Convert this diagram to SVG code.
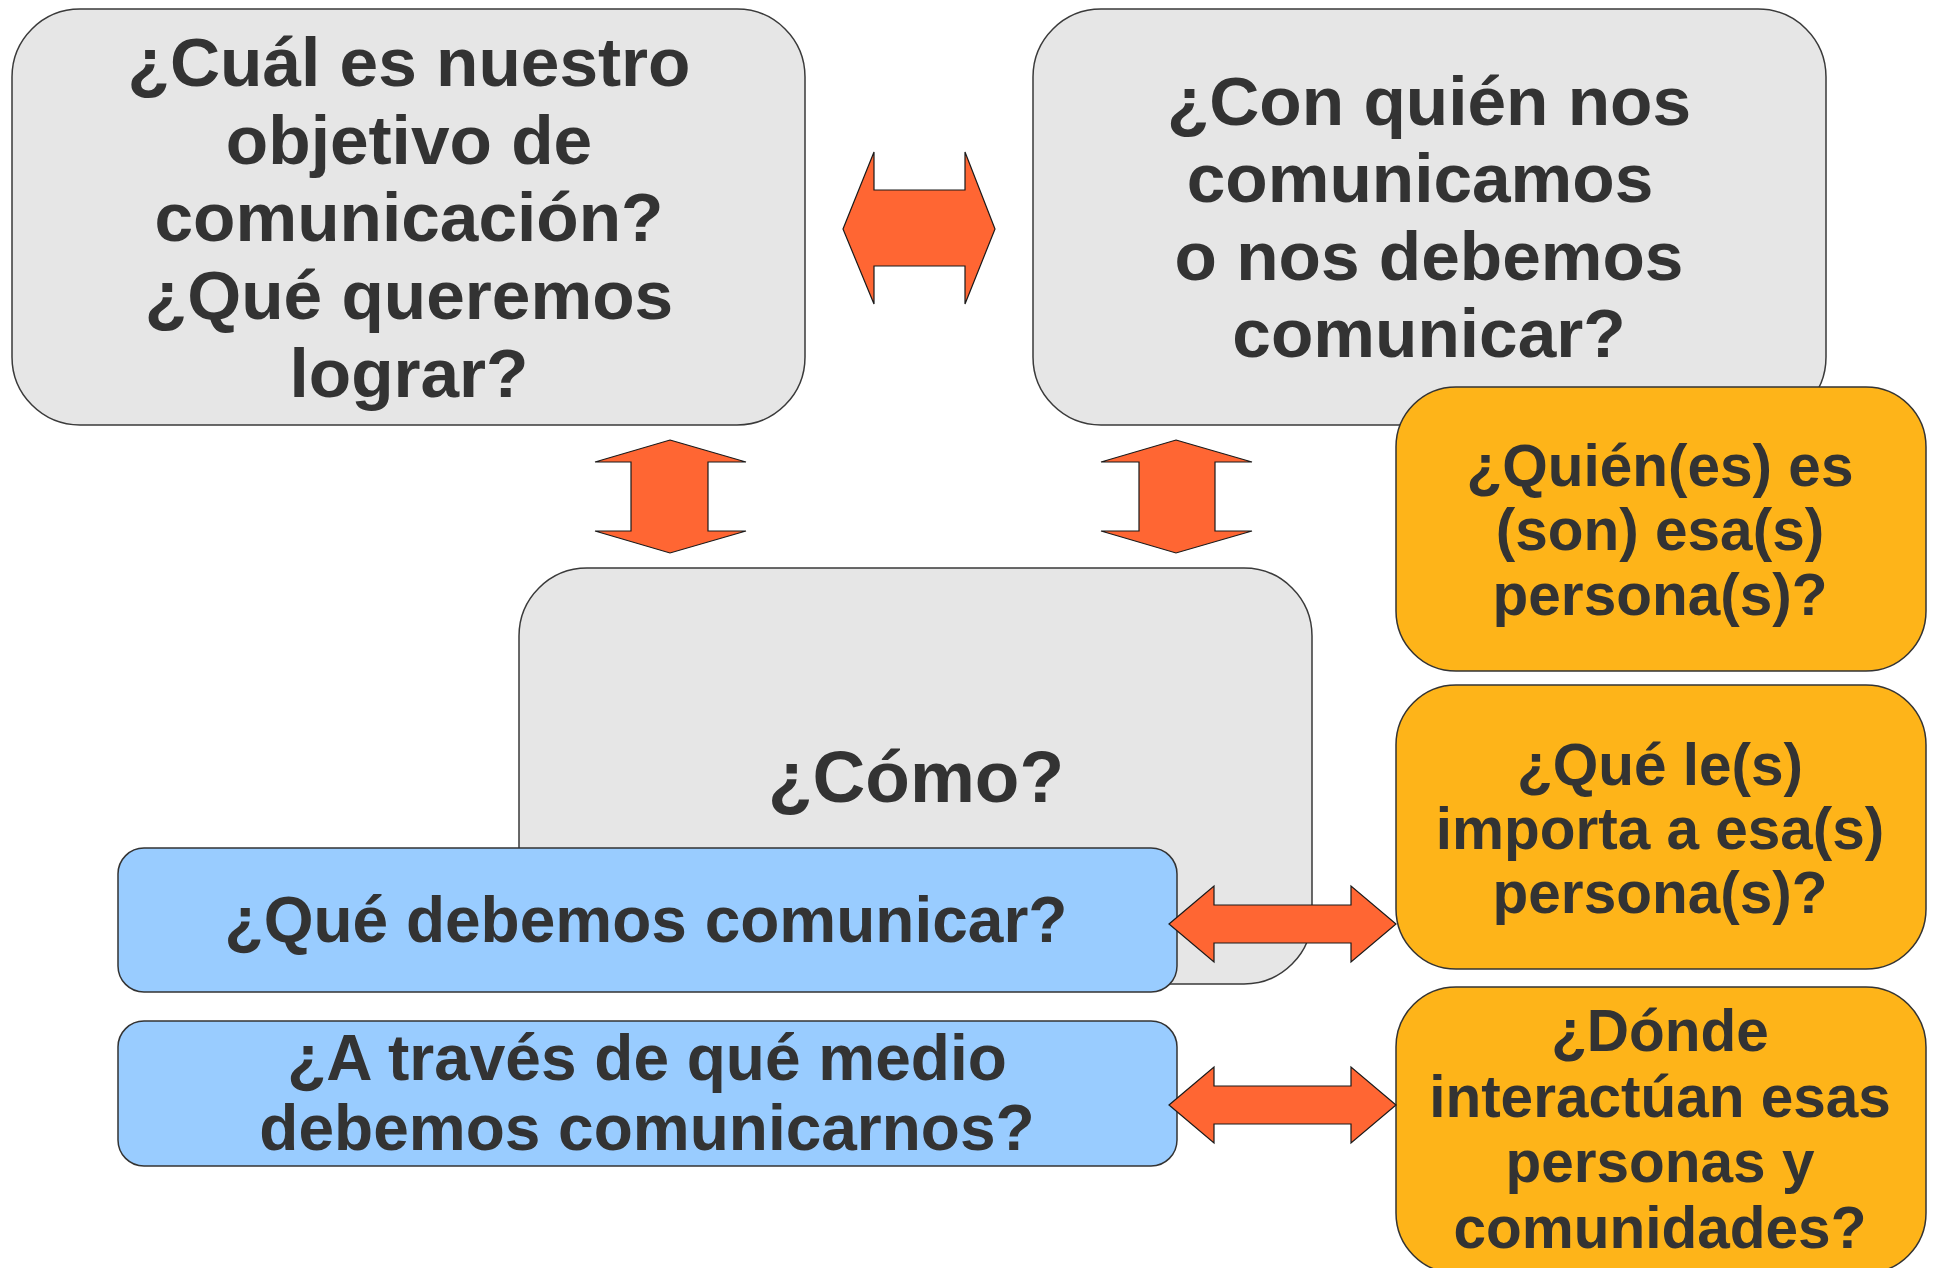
<svg xmlns="http://www.w3.org/2000/svg" width="1933" height="1268" viewBox="0 0 1933 1268">
<style>
.grey{fill:#e6e6e6;stroke:#3a3a3a;stroke-width:1.5}
.blue{fill:#99ccff;stroke:#333;stroke-width:1.5}
.orange{fill:#feb419;stroke:#333;stroke-width:1.5}
.arrow{fill:#ff6633;stroke:#1a1a1a;stroke-width:1.2;stroke-linejoin:miter}
text{font-family:"Liberation Sans",Arial,sans-serif;font-weight:bold;fill:#333;text-anchor:middle}
.g{font-size:69.4px}
.c{font-size:73px}
.b{font-size:64px}
.o{font-size:58.5px}
</style>
<rect width="1933" height="1268" fill="#fff"/>
<g id="objetivo">
<rect class="grey" x="12" y="9" width="793" height="416" rx="68" ry="68"/>
<text class="g" x="409" y="86">¿Cuál es nuestro</text>
<text class="g" x="409" y="164">objetivo de</text>
<text class="g" x="409" y="241">comunicación?</text>
<text class="g" x="409" y="319">¿Qué queremos</text>
<text class="g" x="409" y="397">lograr?</text>
</g>
<g id="con-quien">
<rect class="grey" x="1033" y="9" width="793" height="416" rx="68" ry="68"/>
<text class="g" x="1429" y="125">¿Con quién nos</text>
<text class="g" x="1420" y="202">comunicamos</text>
<text class="g" x="1429" y="280">o nos debemos</text>
<text class="g" x="1429" y="357">comunicar?</text>
</g>
<g id="como">
<rect class="grey" x="519" y="568" width="793" height="416" rx="68" ry="68"/>
<text class="c" x="916" y="802">¿Cómo?</text>
</g>
<g id="quienes">
<rect class="orange" x="1396" y="387" width="530" height="284" rx="60" ry="60"/>
<text class="o" x="1660" y="486">¿Quién(es) es</text>
<text class="o" x="1660" y="550">(son) esa(s)</text>
<text class="o" x="1660" y="615">persona(s)?</text>
</g>
<g id="que-importa">
<rect class="orange" x="1396" y="685" width="530" height="284" rx="60" ry="60"/>
<text class="o" x="1660" y="785">¿Qué le(s)</text>
<text class="o" x="1660" y="849">importa a esa(s)</text>
<text class="o" x="1660" y="913">persona(s)?</text>
</g>
<g id="donde">
<rect class="orange" x="1396" y="987" width="530" height="286" rx="60" ry="60"/>
<text class="o" x="1660" y="1051">¿Dónde</text>
<text class="o" x="1660" y="1117">interactúan esas</text>
<text class="o" x="1660" y="1182">personas y</text>
<text class="o" x="1660" y="1248">comunidades?</text>
</g>
<g id="que-comunicar">
<rect class="blue" x="118" y="848" width="1059" height="144" rx="26" ry="26"/>
<text class="b" x="646" y="942">¿Qué debemos comunicar?</text>
</g>
<g id="medio">
<rect class="blue" x="118" y="1021" width="1059" height="145" rx="26" ry="26"/>
<text class="b" x="647" y="1080">¿A través de qué medio</text>
<text class="b" x="647" y="1150">debemos comunicarnos?</text>
</g>
<g id="connectors">
<polygon class="arrow" points="843,229 874,152 874,190 965,190 965,152 995,229 965,304 965,266 874,266 874,304"/>
<polygon class="arrow" points="670,440 746,462 708,462 708,531 746,531 670,553 595,531 631,531 631,462 595,462"/>
<polygon class="arrow" points="1176,440 1252,462 1215,462 1215,531 1252,531 1176,553 1101,531 1139,531 1139,462 1101,462"/>
<polygon class="arrow" points="1169,924 1214,886 1214,905 1351,905 1351,886 1396,924 1351,962 1351,943 1214,943 1214,962"/>
<polygon class="arrow" points="1169,1105 1214,1067 1214,1086 1351,1086 1351,1067 1396,1105 1351,1143 1351,1124 1214,1124 1214,1143"/>
</g>
</svg>
